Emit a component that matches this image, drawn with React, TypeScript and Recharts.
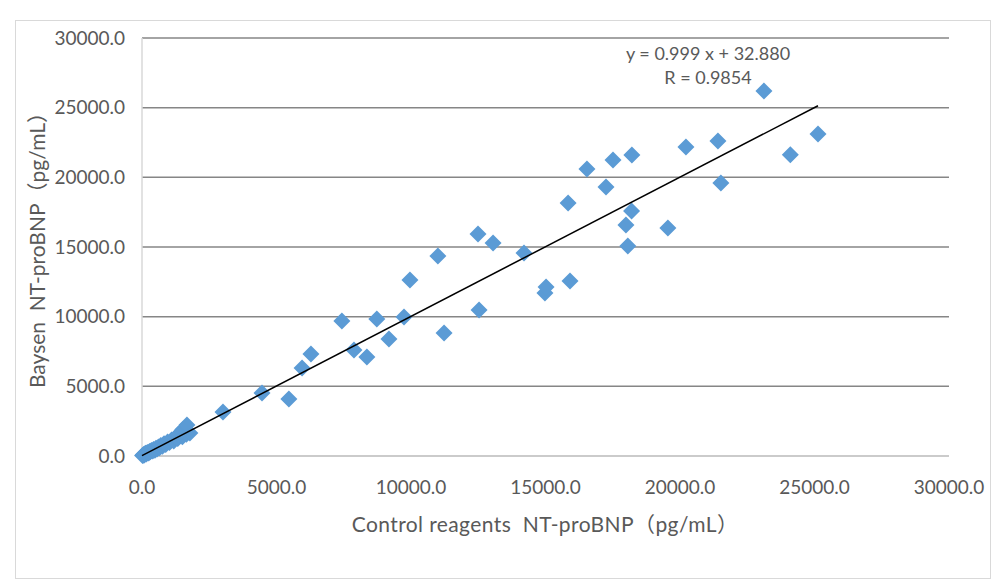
import React from "react";
import { ScatterChart, Scatter, XAxis, YAxis, ZAxis, CartesianGrid } from "recharts";

// Control reagents (x) vs Baysen (y), NT-proBNP pg/mL.
const CONTROL_X = [
  20, 45, 60, 85, 110, 130, 160, 190, 220, 250, 280, 310, 350, 400, 430, 480, 520, 560, 610, 650,
  700, 760, 820, 880, 950, 1020, 1100, 1180, 1250, 1330, 1420, 1500, 1580, 1650, 1780, 1520, 1350,
  1670, 3010, 4460, 5460, 5950, 6280, 7430, 7880, 8360, 8730, 9180, 9740, 9960, 11000, 11230,
  12530, 12490, 13050, 14200, 14980, 15020, 15910, 15840, 16540, 17250, 17510, 18060, 17990,
  18200, 18210, 19550, 20220, 21410, 21520, 23120, 24100, 25130,
];
const BAYSEN_Y = [
  35, 60, 110, 70, 150, 190, 140, 230, 260, 210, 330, 300, 390, 360, 470, 420, 560, 500, 640, 590,
  760, 700, 880, 820, 1010, 960, 1150, 1080, 1320, 1260, 1480, 1390, 1650, 1560, 1650, 1900, 1550,
  2230, 3160, 4520, 4090, 6320, 7320, 9690, 7610, 7110, 9830, 8400, 9980, 12630, 14350, 8830,
  10480, 15930, 15290, 14570, 11700, 12130, 12560, 18160, 20600, 19310, 21240, 15070, 16580,
  17580, 21600, 16360, 22180, 22610, 19590, 26200, 21620, 23110,
];

// linear trendline y = 0.999 x + 32.880, drawn over the x range of the data
const TREND_X = [0, 25130];
const TREND_Y = [32.9, 25137];

const AXIS_TICKS = [0, 5000, 10000, 15000, 20000, 25000, 30000];

const EQUATION = "y = 0.999 x + 32.880";
const R_TEXT = "R = 0.9854";
const X_TITLE = "Control reagents  NT-proBNP（pg/mL）";
const Y_TITLE = "Baysen  NT-proBNP（pg/mL）";

const points = CONTROL_X.map((x, i) => ({ x, y: BAYSEN_Y[i] }));
const trend = TREND_X.map((x, i) => ({ x, y: TREND_Y[i] }));

const FONT = "Lato, 'Noto Sans CJK SC', sans-serif";
const TEXT = "#595959";

function Diamond(props: any) {
  const { cx, cy } = props;
  const r = 8.5;
  return (
    <polygon
      points={`${cx},${cy - r} ${cx + r},${cy} ${cx},${cy + r} ${cx - r},${cy}`}
      fill="#5b9bd5"
    />
  );
}

export default function App() {
  const tick = { fill: TEXT, fontSize: 19, fontFamily: FONT };
  return (
    <div
      style={{
        position: "absolute",
        left: 15,
        top: 20,
        width: 976,
        height: 559,
        border: "1px solid #d9d9d9",
        boxSizing: "border-box",
        background: "#fff",
        fontFamily: FONT,
      }}
    >
      <ScatterChart width={974} height={557} margin={{ top: 17, right: 41, bottom: 82, left: 0 }}>
        <CartesianGrid horizontal vertical={false} stroke="#868686" strokeWidth={1.5} />
        <XAxis
          type="number"
          dataKey="x"
          domain={[0, 30000]}
          ticks={AXIS_TICKS}
          tickFormatter={(v: number) => v.toFixed(1)}
          tick={tick}
          tickLine={false}
          tickSize={0}
          tickMargin={25}
          height={40}
          axisLine={{ stroke: "#d9d9d9", strokeWidth: 1.5 }}
          interval={0}
        />
        <YAxis
          type="number"
          dataKey="y"
          domain={[0, 30000]}
          ticks={AXIS_TICKS}
          tickFormatter={(v: number) => v.toFixed(1)}
          tick={tick}
          tickLine={false}
          tickSize={0}
          tickMargin={17}
          width={126}
          axisLine={{ stroke: "#d9d9d9", strokeWidth: 1.5 }}
          interval={0}
        />
        <ZAxis range={[100, 100]} />
        <Scatter data={points} shape={Diamond} isAnimationActive={false} />
        <Scatter
          data={trend}
          line={{ stroke: "#000", strokeWidth: 1.5 }}
          shape={() => <g />}
          isAnimationActive={false}
        />
      </ScatterChart>
      <div
        style={{
          position: "absolute",
          left: 708 - 16 - 150,
          width: 300,
          top: 41 - 21,
          textAlign: "center",
          color: TEXT,
          fontSize: 18,
          lineHeight: "24px",
        }}
      >
        <div>{EQUATION}</div>
        <div>{R_TEXT}</div>
      </div>
      <div
        style={{
          position: "absolute",
          left: 545 - 16 - 300,
          width: 600,
          top: 524 - 21 - 14,
          textAlign: "center",
          color: TEXT,
          fontSize: 21,
          lineHeight: "28px",
          letterSpacing: "0.4px",
          whiteSpace: "pre",
        }}
      >
        {X_TITLE}
      </div>
      <div
        style={{
          position: "absolute",
          left: 37 - 16 - 300,
          top: 245 - 21 - 14,
          width: 600,
          textAlign: "center",
          color: TEXT,
          fontSize: 21,
          lineHeight: "28px",
          whiteSpace: "pre",
          transform: "rotate(-90deg)",
        }}
      >
        {Y_TITLE}
      </div>
    </div>
  );
}
